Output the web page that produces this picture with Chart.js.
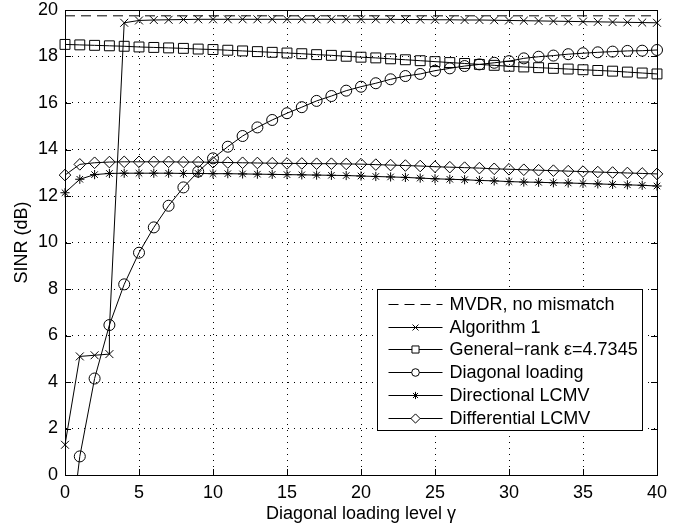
<!DOCTYPE html>
<html>
<head>
<meta charset="utf-8">
<title>SINR versus diagonal loading level</title>
<script src="https://cdn.jsdelivr.net/npm/chart.js@4.4.1/dist/chart.umd.min.js"></script>
<style>
    html, body { margin: 0; padding: 0; background: #fff; }
    canvas { display: block; }
</style>
</head>
<body>
<canvas id="sinrChart" width="695" height="527"></canvas>
<script>
// diagonal loading level (x axis)
const gamma = [0, 1, 2, 3, 4, 5, 6, 7, 8, 9, 10, 11, 12, 13, 14, 15, 16, 17, 18, 19, 20,
    21, 22, 23, 24, 25, 26, 27, 28, 29, 30, 31, 32, 33, 34, 35, 36, 37, 38, 39, 40];

const mvdrX = [0, 40];
const mvdrSinr = [19.75, 19.75];

// algorithm 1 jumps twice at gamma = 3
const algo1X = [0, 1, 2, 3, 3, 4, 5, 6, 7, 8, 9, 10, 11, 12, 13, 14, 15, 16, 17, 18, 19, 20,
    21, 22, 23, 24, 25, 26, 27, 28, 29, 30, 31, 32, 33, 34, 35, 36, 37, 38, 39, 40];
const algo1Sinr = [1.3, 5.1, 5.15, 5.2, 6.3, 19.45, 19.55, 19.57, 19.58, 19.59, 19.6, 19.6, 19.6, 19.6,
    19.6, 19.6, 19.6, 19.6, 19.6, 19.6, 19.6, 19.6, 19.6, 19.6, 19.59, 19.59, 19.58, 19.58, 19.57,
    19.57, 19.56, 19.55, 19.54, 19.53, 19.52, 19.51, 19.5, 19.49, 19.48, 19.47, 19.46, 19.45];

const generalRankSinr = [18.52, 18.5, 18.48, 18.46, 18.44, 18.41, 18.39, 18.37, 18.35, 18.32, 18.3,
    18.27, 18.24, 18.21, 18.18, 18.15, 18.12, 18.08, 18.05, 18.01, 17.97, 17.94, 17.9, 17.86, 17.82,
    17.78, 17.74, 17.7, 17.66, 17.62, 17.58, 17.55, 17.52, 17.49, 17.46, 17.43, 17.4, 17.37, 17.33,
    17.29, 17.25];

const diagonalSinr = [-4.5, 0.8, 4.15, 6.45, 8.2, 9.56, 10.65, 11.58, 12.37, 13.05, 13.62, 14.12,
    14.58, 14.95, 15.27, 15.56, 15.82, 16.09, 16.3, 16.53, 16.7, 16.85, 17.02, 17.16, 17.25, 17.39,
    17.49, 17.59, 17.66, 17.73, 17.8, 17.92, 17.99, 18.04, 18.1, 18.14, 18.18, 18.21, 18.24, 18.25,
    18.28];

const directionalSinr = [12.14, 12.72, 12.92, 12.97, 12.98, 12.98, 12.98, 12.98, 12.97, 12.97, 12.96,
    12.96, 12.95, 12.94, 12.93, 12.92, 12.91, 12.9, 12.89, 12.88, 12.86, 12.84, 12.82, 12.8, 12.77,
    12.74, 12.72, 12.7, 12.67, 12.65, 12.62, 12.6, 12.59, 12.57, 12.56, 12.54, 12.52, 12.5, 12.48,
    12.46, 12.43];

const differentialSinr = [12.9, 13.36, 13.43, 13.46, 13.47, 13.47, 13.47, 13.47, 13.46, 13.46, 13.45,
    13.44, 13.43, 13.42, 13.41, 13.4, 13.4, 13.39, 13.39, 13.38, 13.37, 13.35, 13.33, 13.31, 13.29,
    13.26, 13.24, 13.22, 13.2, 13.17, 13.15, 13.13, 13.11, 13.09, 13.07, 13.05, 13.03, 13.01, 12.99,
    12.97, 12.95];

const seriesLabels = ['MVDR, no mismatch', 'Algorithm 1', 'General\u2212rank \u03b5=4.7345',
    'Diagonal loading', 'Directional LCMV', 'Differential LCMV'];

const xTicks = [0, 5, 10, 15, 20, 25, 30, 35, 40];
const yTicks = [0, 2, 4, 6, 8, 10, 12, 14, 16, 18, 20];

function toPoints(xs, ys) {
    return xs.map((x, i) => ({ x: x, y: ys[i] }));
}

const FONT = '"Liberation Sans", Arial, Helvetica, sans-serif';
const FONT_SIZE = 18;
Chart.defaults.font.family = FONT;
Chart.defaults.font.size = FONT_SIZE;
Chart.defaults.color = '#000';

const lineBase = {
    borderColor: '#000',
    backgroundColor: 'rgba(0,0,0,0)',
    pointBorderColor: '#000',
    pointBackgroundColor: 'rgba(0,0,0,0)',
    borderWidth: 1,
    pointBorderWidth: 1,
    tension: 0,
    clip: { left: 12, right: 12, top: 12, bottom: 0 }
};

// solid box round the axes with inward ticks on every side
const axesBox = {
    id: 'axesBox',
    afterDraw(chart) {
        const { ctx, chartArea: a, scales } = chart;
        ctx.save();
        ctx.strokeStyle = '#000';
        ctx.lineWidth = 1;
        ctx.setLineDash([]);
        ctx.beginPath();
        ctx.rect(Math.round(a.left) + 0.5, Math.round(a.top) + 0.5,
            Math.round(a.right - a.left), Math.round(a.bottom - a.top));
        const len = 6;
        xTicks.forEach(v => {
            const px = Math.round(scales.x.getPixelForValue(v)) + 0.5;
            ctx.moveTo(px, a.bottom); ctx.lineTo(px, a.bottom - len);
            ctx.moveTo(px, a.top); ctx.lineTo(px, a.top + len);
        });
        yTicks.forEach(v => {
            const py = Math.round(scales.y.getPixelForValue(v)) + 0.5;
            ctx.moveTo(a.left, py); ctx.lineTo(a.left + len, py);
            ctx.moveTo(a.right, py); ctx.lineTo(a.right - len, py);
        });
        ctx.stroke();
        ctx.restore();
    }
};

// boxed legend inside the lower right corner, matlab style
const boxLegend = {
    id: 'boxLegend',
    afterDraw(chart) {
        const { ctx, chartArea: a } = chart;
        const w = 265, h = 141;
        const left = Math.round(a.right - 15 - w) + 0.5;
        const top = Math.round(a.bottom - 45 - h) + 0.5;
        ctx.save();
        ctx.fillStyle = '#fff';
        ctx.strokeStyle = '#000';
        ctx.lineWidth = 1;
        ctx.fillRect(left, top, w, h);
        ctx.strokeRect(left, top, w, h);

        chart.data.datasets.forEach((ds, i) => {
            const y = Math.round(top + 14.5 + i * 22.7) + 0.5;
            ctx.beginPath();
            ctx.setLineDash(ds.borderDash || []);
            ctx.moveTo(left + 11, y);
            ctx.lineTo(left + 65, y);
            ctx.stroke();
            ctx.setLineDash([]);
            if (ds.legendRadius) {
                ctx.fillStyle = '#fff';
                Chart.helpers.drawPoint(ctx, {
                    pointStyle: ds.pointStyle,
                    radius: ds.legendRadius,
                    rotation: 0,
                    borderWidth: 1
                }, left + 38, y);
            }
            ctx.fillStyle = '#000';
            ctx.font = FONT_SIZE + 'px ' + FONT;
            ctx.textBaseline = 'middle';
            ctx.textAlign = 'left';
            ctx.fillText(ds.label, left + 72, y + 1);
        });
        ctx.restore();
    }
};

const ctx = document.getElementById('sinrChart').getContext('2d');

new Chart(ctx, {
    type: 'line',
    data: {
        datasets: [
            {
                ...lineBase,
                label: seriesLabels[0],
                data: toPoints(mvdrX, mvdrSinr),
                borderDash: [10, 6],
                pointRadius: 0
            },
            {
                ...lineBase,
                label: seriesLabels[1],
                data: toPoints(algo1X, algo1Sinr),
                pointStyle: 'crossRot',
                pointRadius: algo1X.map((x, i) => (i === 4 ? 0 : 5.6)),
                legendRadius: 4.2
            },
            {
                ...lineBase,
                label: seriesLabels[2],
                data: toPoints(gamma, generalRankSinr),
                pointStyle: 'rect',
                pointRadius: 7,
                legendRadius: 5
            },
            {
                ...lineBase,
                label: seriesLabels[3],
                data: toPoints(gamma, diagonalSinr),
                pointStyle: 'circle',
                pointRadius: 5.5,
                legendRadius: 3.8
            },
            {
                ...lineBase,
                label: seriesLabels[4],
                data: toPoints(gamma, directionalSinr),
                pointStyle: 'star',
                pointRadius: 4.6,
                legendRadius: 3.6
            },
            {
                ...lineBase,
                label: seriesLabels[5],
                data: toPoints(gamma, differentialSinr),
                pointStyle: 'rectRot',
                pointRadius: 5.8,
                legendRadius: 4.6
            }
        ]
    },
    options: {
        responsive: false,
        animation: false,
        events: [],
        layout: { padding: { left: 0, right: 38, top: 10, bottom: 0 } },
        plugins: {
            legend: { display: false },
            tooltip: { enabled: false }
        },
        scales: {
            x: {
                type: 'linear',
                min: 0,
                max: 40,
                afterFit: scale => {
                    scale.height = 52;
                    scale.paddingLeft = 0;
                    scale.paddingRight = 0;
                },
                afterBuildTicks: scale => { scale.ticks = xTicks.map(v => ({ value: v })); },
                ticks: { padding: 7, color: '#000', font: { size: FONT_SIZE } },
                grid: { color: '#000', lineWidth: 1, drawTicks: false },
                border: { display: true, color: '#000', width: 1, dash: [1, 5] },
                title: {
                    display: true,
                    text: 'Diagonal loading level \u03b3',
                    color: '#000',
                    font: { size: FONT_SIZE },
                    padding: { top: 0, bottom: 2 }
                }
            },
            y: {
                min: 0,
                max: 20,
                afterFit: scale => {
                    scale.width = 65;
                    scale.paddingTop = 0;
                    scale.paddingBottom = 0;
                },
                afterBuildTicks: scale => { scale.ticks = yTicks.map(v => ({ value: v })); },
                ticks: { padding: 7, color: '#000', font: { size: FONT_SIZE } },
                grid: { color: '#000', lineWidth: 1, drawTicks: false },
                border: { display: true, color: '#000', width: 1, dash: [1, 5] },
                title: {
                    display: true,
                    text: 'SINR (dB)',
                    color: '#000',
                    font: { size: FONT_SIZE },
                    padding: { top: 11, bottom: 0 }
                }
            }
        }
    },
    plugins: [axesBox, boxLegend]
});
</script>
</body>
</html>
